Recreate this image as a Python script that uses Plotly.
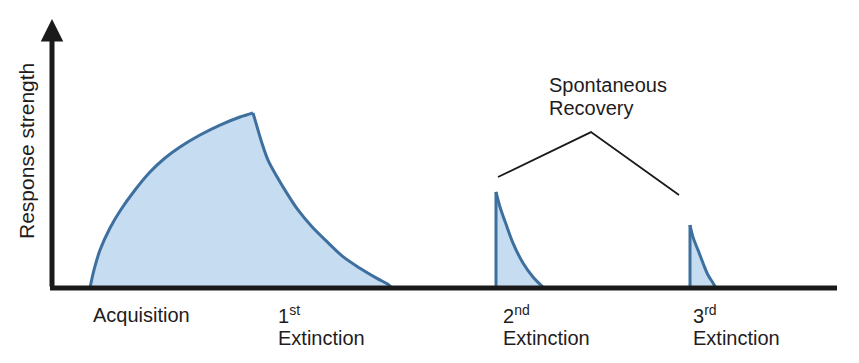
import plotly.graph_objects as go

# ---- data (time units, response-strength units) ----
acq_t = [3.8, 4.2, 4.8, 5.8, 6.8, 8.3, 9.8, 11.3, 12.8, 14.8, 16.8, 18.8, 20.1]
acq_s = [0, 10.3, 21.7, 34.3, 44.0, 56.0, 66.3, 74.3, 80.6, 87.4, 93.1, 97.7, 100]

ext1_t = [20.1, 20.5, 21.0, 21.6, 22.5, 23.5, 24.6, 26.0, 27.5, 29.1, 30.8, 32.5, 33.6, 34.0]
ext1_s = [100, 92.2, 82.7, 73.1, 63.6, 54.1, 44.6, 35.0, 26.5, 17.9, 11.3, 5.5, 2.1, 0]

ext2_t = [44.4, 44.8, 45.5, 46.1, 47.1, 48.1, 49.2]
ext2_s = [54.9, 46.3, 34.9, 25.7, 14.3, 6.3, 0]

ext3_t = [63.8, 64.1, 64.6, 65.1, 65.6, 66.1, 66.4]
ext3_s = [36.0, 29.1, 21.7, 14.3, 7.4, 2.9, 0]

bracket_t = [44.6, 53.9, 62.7]
bracket_s = [63.4, 89.1, 53.1]

phase_labels = ["Acquisition", "1<sup>st</sup>", "2<sup>nd</sup>", "3<sup>rd</sup>"]
second_line = ["", "Extinction", "Extinction", "Extinction"]
y_title = "Response strength"
callout = ["Spontaneous", "Recovery"]

FILL = "#c6dcf1"
LINE = "#3d6f9f"
TXT = "#1f1c1d"
AX = "#1a1a1a"
FONT = "Liberation Sans, Arial, Helvetica, sans-serif"

fig = go.Figure()

# filled areas
for tt, ss in [(acq_t, acq_s), (ext1_t, ext1_s), (ext2_t, ext2_s), (ext3_t, ext3_s)]:
    fig.add_trace(go.Scatter(x=tt, y=ss, mode="lines", fill="tozeroy",
                             fillcolor=FILL, line=dict(width=0, shape="spline"),
                             hoverinfo="skip", showlegend=False))

# outlines
for tt, ss in [(acq_t, acq_s), (ext1_t, ext1_s), (ext2_t, ext2_s), (ext3_t, ext3_s)]:
    fig.add_trace(go.Scatter(x=tt, y=ss, mode="lines",
                             line=dict(color=LINE, width=3, shape="spline"),
                             hoverinfo="skip", showlegend=False))
# vertical rises of the recovery bursts
for tt, ss in [(ext2_t, ext2_s), (ext3_t, ext3_s)]:
    fig.add_trace(go.Scatter(x=[tt[0], tt[0]], y=[0, ss[0]], mode="lines",
                             line=dict(color=LINE, width=3),
                             hoverinfo="skip", showlegend=False))

# bracket
fig.add_trace(go.Scatter(x=bracket_t, y=bracket_s, mode="lines",
                         line=dict(color=AX, width=1.8),
                         hoverinfo="skip", showlegend=False))

# x axis line
fig.add_shape(type="line", x0=-0.2, x1=78.5, y0=0, y1=0, xref="x", yref="y",
              line=dict(color=AX, width=5))

annotations = []
# y axis with arrow
annotations.append(dict(x=0, y=153.7, ax=0, ay=0, xref="x", yref="y",
                        axref="x", ayref="y", text="", showarrow=True,
                        arrowhead=2, arrowsize=0.9, arrowwidth=5,
                        arrowcolor=AX, standoff=0, startstandoff=0))

# y title
annotations.append(dict(x=-2.5, y=78.3, xref="x", yref="y", text=y_title,
                        textangle=-90, showarrow=False,
                        font=dict(family=FONT, size=21, color=TXT)))

# phase labels
label_x = [3.9, 22.4, 44.9, 63.9]
for lbl, l2, lx in zip(phase_labels, second_line, label_x):
    annotations.append(dict(x=lx, y=-15.4, xref="x", yref="y", text=lbl,
                            xanchor="left", yanchor="middle", showarrow=False,
                            font=dict(family=FONT, size=20, color=TXT)))
    if l2:
        annotations.append(dict(x=lx, y=-28.6, xref="x", yref="y", text=l2,
                                xanchor="left", yanchor="middle", showarrow=False,
                                font=dict(family=FONT, size=20, color=TXT)))

# callout
for txt, yy in zip(callout, [116.0, 102.9]):
    annotations.append(dict(x=49.5, y=yy, xref="x", yref="y", text=txt,
                            xanchor="left", yanchor="middle", showarrow=False,
                            font=dict(family=FONT, size=20, color=TXT)))

# page body has an 8px margin: figure is sized/ranged to compensate
fig.update_layout(
    width=851, height=355,
    margin=dict(l=0, r=0, t=0, b=0),
    paper_bgcolor="white", plot_bgcolor="white",
    xaxis=dict(range=[-4.4, 80.7], visible=False, fixedrange=True),
    yaxis=dict(range=[-42.857, 160.0], visible=False, fixedrange=True),
    annotations=annotations,
    showlegend=False,
)

fig.write_html("out.html")
